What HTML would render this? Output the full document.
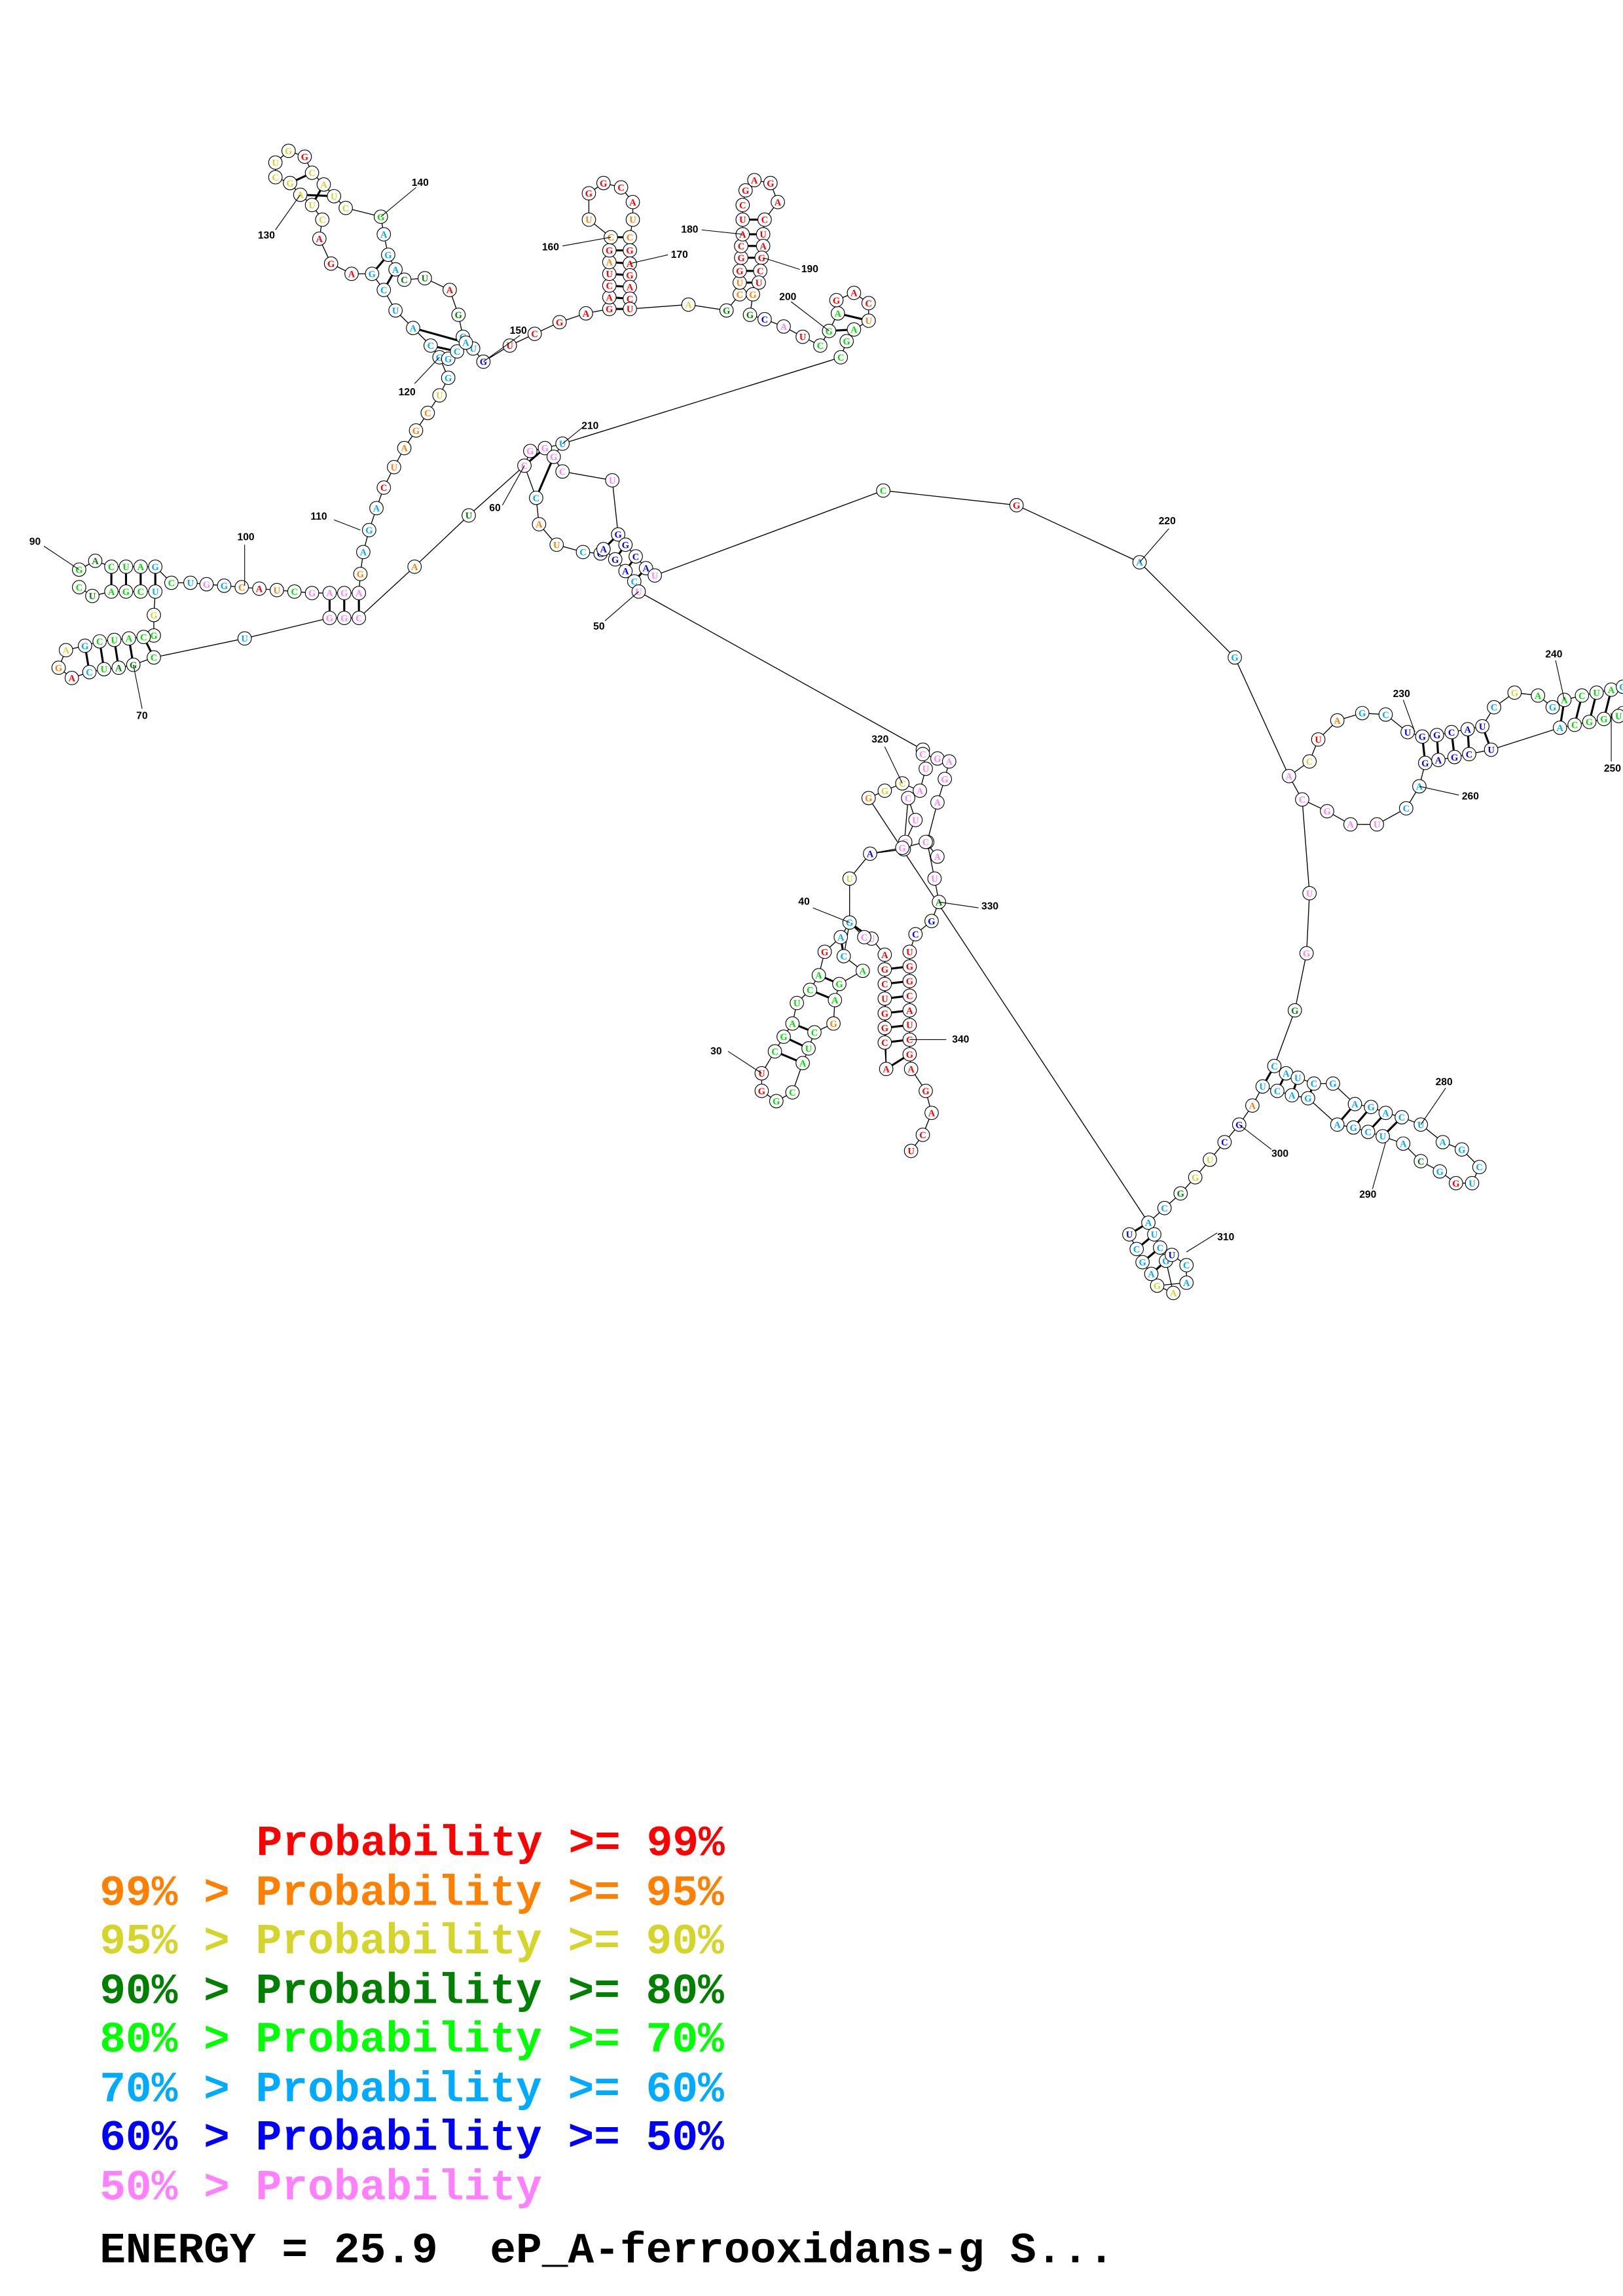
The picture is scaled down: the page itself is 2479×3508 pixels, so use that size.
<!DOCTYPE html>
<html><head><meta charset="utf-8"><style>
html,body{margin:0;padding:0;background:#fff}
svg{display:block}
.l{font-family:"Liberation Mono",monospace;font-weight:bold;font-size:29.6px;white-space:pre}
.n{font-family:"Liberation Sans",sans-serif;font-weight:bold;font-size:7px}
.c{font-family:"Liberation Serif",serif;font-weight:bold;font-size:6.5px;text-anchor:middle}
</style></head><body>
<svg id="s" xmlns="http://www.w3.org/2000/svg" width="2479" height="3508" viewBox="0 0 1108 1568">
<g id="lines" stroke="#000" stroke-width="0.6" fill="none"></g>
<g id="pairs" stroke="#000" stroke-width="1.4" fill="none"></g>
<g id="nodes"></g>
<g id="labels"></g>
<text class="l" x="175" y="1267" fill="#ff0000">Probability &gt;= 99%</text>
<text class="l" x="68" y="1301" fill="#ff8000">99% &gt; Probability &gt;= 95%</text>
<text class="l" x="68" y="1334" fill="#d4d42a">95% &gt; Probability &gt;= 90%</text>
<text class="l" x="68" y="1368" fill="#008000">90% &gt; Probability &gt;= 80%</text>
<text class="l" x="68" y="1401" fill="#00ff00">80% &gt; Probability &gt;= 70%</text>
<text class="l" x="68" y="1435" fill="#00aaff">70% &gt; Probability &gt;= 60%</text>
<text class="l" x="68" y="1468" fill="#0000ff">60% &gt; Probability &gt;= 50%</text>
<text class="l" x="68" y="1502" fill="#ff80ff">50% &gt; Probability</text>
<text class="l" x="68" y="1545" fill="#000" xml:space="preserve">ENERGY = 25.9  eP_A-ferrooxidans-g S...</text>
</svg>
<script>
var C={R:"#ff0000",O:"#ff8000",Y:"#d4d42a",D:"#008000",G:"#00e000",B:"#00aaff",N:"#0000ff",P:"#ff80ff"};
var segs=[
"54,389,G 65,383,D 76,387,G 86,387,G 96,387,G 106,387,B 117,398,G 130,398,B 141,399,P 153,400,B 165,401,O 177,402,R 189,403,O 201,404,G 213,405,P 225,405,P 235,405,P 245,405,P",
"54,401,G 63,407,D 76,404,G 86,404,G 96,404,G 106,404,B 105,420,Y 105,434,G 98,435,G 88,436,G 78,437,G 68,438,G 58,441,B 45,444,Y 40,456,O 49,463,R 61,459,B 71,457,G 81,456,D 91,454,D 105,449,G 167,436,B 225,422,P 235,422,P 245,422,P 283,387,O 320,352,D 358,318,P",
"245,405,P 246,392,O 248,377,B 252,362,B 257,347,B 262,333,R 269,319,O 276,306,O 284,294,O 292,282,O 300,270,Y 306,258,B 300,244,B 294,236,B 282,224,B 270,212,B 262,198,B 254,187,B 240,187,R 226,180,R 218,163,R 220,150,Y 213,140,Y 205,133,Y 198,125,Y 188,121,Y 188,111,Y 197,103,Y 208,107,R 213,118,Y 221,126,Y 228,134,Y 236,142,Y 260,148,G 262,160,B 265,174,B 270,184,B 276,191,D 290,190,D 307,198,R 313,215,D 316,230,B 323,238,B 330,247,N",
"306,245,B 312,240,B 318,234,B",
"330,247,N 348,236,R 365,228,R 382,220,R 400,214,R 416,211,R 416,203,R 416,195,R 416,187,R 416,179,O 416,171,R 417,162,O 402,150,O 402,132,R 412,125,R 424,128,R 432,138,R 432,150,O 430,162,O 430,171,R 430,180,R 430,188,R 430,196,R 430,204,R 430,211,R 470,208,Y 496,212,D 505,201,O 505,193,O 505,185,R 506,176,R 506,168,R 507,160,R 507,150,R 507,140,R 509,130,R 515,123,R 526,125,R 531,138,R 522,150,R 521,160,R 521,168,R 520,176,R 519,185,R 518,193,R 514,201,O 512,215,D 522,218,N 535,223,P 548,230,R 560,236,G 566,226,G 572,214,G 571,205,R 583,200,R 593,207,R 593,219,O 583,225,G 578,233,G 574,244,G 384,303,B 372,306,P 362,308,P 358,318,P 366,340,B 368,358,O 380,372,O 398,377,B 410,378,N 412,375,N 420,382,N 427,390,N 433,397,B 436,404,P 630,512,P",
"384,303,B 378,312,P 384,322,P 418,328,P 422,365,N 427,372,N 434,380,N 441,388,N 447,393,P 603,335,G 694,345,R 778,384,B 843,449,B 880,530,P 894,520,Y 900,505,R 913,492,O 930,487,B 946,488,B 961,500,N 971,503,N 981,502,N 991,500,N 1002,498,N 1012,496,N 1020,483,B 1034,473,Y 1050,475,G 1060,483,B 1068,478,G 1080,475,G 1090,473,G 1100,471,G 1108,469,B",
"1108,487,G 1105,489,G 1095,491,G 1085,493,G 1075,495,G 1065,497,B 1018,512,N 1003,515,N 993,517,N 982,519,N 973,521,N 969,537,B 960,552,B 940,563,P 922,563,P 906,554,P 889,546,P 880,530,P",
"889,546,P 894,610,P 892,651,P 884,690,D 870,728,B 878,733,B 886,736,B 897,740,B 910,740,B 925,754,B 936,756,B 946,760,B 957,763,B 970,768,B 985,780,B 998,785,B 1010,797,B 1005,808,B 994,808,R 983,800,B 970,793,D 958,781,B 944,776,B 934,773,B 924,770,B 913,768,B 893,750,B 882,748,B 872,745,B 862,742,B 855,755,O 846,768,N 836,780,N 826,792,Y 816,804,Y 806,815,D 795,825,B 784,835,B 788,843,B 792,852,B 796,861,B 801,883,Y 790,878,Y 810,876,B 810,864,B 800,857,N 786,870,B 780,862,B 776,853,B 771,843,N 784,835,B 593,545,O",
"593,545,O 604,540,Y 616,535,Y 628,540,P 632,525,P 630,515,P 640,518,P 648,520,P 645,532,P 640,548,P 633,575,P 638,600,P 641,616,D 636,629,N 625,638,N 621,650,R 621,660,R 621,670,R 621,680,R 621,690,R 621,700,R 621,710,R 621,720,R 622,730,R 632,745,R 636,760,R 630,775,R 622,786,R",
"604,652,R 604,662,R 604,672,R 604,682,R 604,692,R 604,702,R 604,712,R 605,730,R 604,652,R 595,641,P 590,640,P 580,630,B 574,640,B 563,650,R 559,666,G 553,676,G 544,685,G 541,699,G 535,708,G 529,718,G 520,733,R 520,745,R 530,752,G 541,746,G 548,726,G 552,716,G 556,705,G 569,699,O 570,683,G 573,672,G 589,663,G 576,653,B 580,630,B 580,600,Y 594,583,N 617,580,P 620,545,P 625,560,P 618,575,P",
"594,583,N 616,579,P 632,575,P 640,585,P"
];
var pairs=[[76,387,76,404],[86,387,86,404],[96,387,96,404],[106,387,106,404],[58,441,61,459],[68,438,71,457],[78,437,81,456],[88,436,91,454],[98,435,105,449],[225,405,225,422],[235,405,235,422],[245,405,245,422],
[416,211,430,211],[416,203,430,204],[416,195,430,196],[416,187,430,188],[416,179,430,180],[416,171,430,171],[417,162,430,162],
[505,201,514,201],[505,193,518,193],[505,185,519,185],[506,176,520,176],[506,168,521,168],[507,160,521,160],[507,150,522,150],
[971,503,973,521],[981,502,982,519],[991,500,993,517],[1002,498,1003,515],[1012,496,1018,512],[1068,478,1065,497],[1080,475,1075,495],[1090,473,1085,493],[1100,471,1095,491],
[878,733,872,745],[886,736,882,748],[897,740,893,750],[870,728,862,742],[925,754,913,768],[936,756,924,770],[946,760,934,773],[957,763,944,776],
[784,835,771,843],[788,843,776,853],[792,852,780,862],[796,861,786,870],
[604,662,621,660],[604,672,621,670],[604,682,621,680],[604,692,621,690],[604,702,621,700],[604,712,621,710],[605,730,621,720],
[580,630,595,641],[574,640,576,653],[559,666,573,672],[553,676,570,683],[541,699,556,705],[535,708,552,716],[529,718,548,726],
[358,318,372,306],[366,340,378,312],[420,382,427,372],[427,390,434,380],[433,397,441,388],[412,375,422,365],
[300,244,306,245],[294,236,312,240],[282,224,318,234],[254,187,265,174],[262,198,270,184],[205,133,228,134],[213,140,221,126],[198,125,213,118],
[566,226,583,225],[572,214,593,219]];
var labels=[["90",20,372],["100",162,369],["110",212,355],["120",272,270],["130",176,163],["140",281,127],["150",348,228],["160",370,171],["170",458,176],["180",465,159],["190",547,186],["200",532,205],["210",397,293],["220",791,358],["230",951,476],["240",1055,449],["250",1095,527],["260",998,546],["280",980,741],["290",928,818],["300",868,790],["310",831,847],["320",595,507],["330",670,621],["340",650,712],["30",485,720],["40",545,618],["50",405,430],["60",334,349],["70",93,491]];
var ll=[[30,373,54,389],[167,372,167,400],[228,355,246,362],[283,262,300,244],[188,157,205,133],[284,128,260,148],[355,229,330,247],[384,168,417,162],[456,174,430,180],[479,157,507,160],[546,184,521,176],[540,206,566,226],[400,290,384,303],[798,361,778,384],[958,478,966,500],[1062,451,1068,478],[1100,520,1100,487],[996,543,969,537],[987,743,970,768],[937,812,946,780],[868,785,846,768],[831,842,810,855],[604,510,616,535],[668,620,641,616],[646,710,621,710],[497,718,520,733],[555,620,580,630],[413,424,436,404],[343,345,358,318],[97,484,91,454]];
var NS="http://www.w3.org/2000/svg";
function el(t,a,p){var e=document.createElementNS(NS,t);for(var k in a)e.setAttribute(k,a[k]);p.appendChild(e);return e;}
var L=document.getElementById("lines"),P=document.getElementById("pairs"),Nd=document.getElementById("nodes"),Lb=document.getElementById("labels");
var letters="GACUAGCUGGCAUCGA",li=0,seen={};
segs.forEach(function(s){var pts=s.trim().split(/\s+/).map(function(t){var a=t.split(",");return [+a[0],+a[1],a[2]];});
 el("polyline",{points:pts.map(function(p){return p[0]+","+p[1];}).join(" ")},L);
 pts.forEach(function(p){var k=p[0]+"_"+p[1];if(seen[k])return;seen[k]=1;
  el("circle",{cx:p[0],cy:p[1],r:4.6,fill:"#fff",stroke:"#000","stroke-width":0.5},Nd);
  var t=el("text",{x:p[0],y:p[1]+2.3,"class":"c",fill:C[p[2]]},Nd);t.textContent=letters[(li++)%letters.length];});
});
pairs.forEach(function(q){el("line",{x1:q[0],y1:q[1],x2:q[2],y2:q[3]},P);});
ll.forEach(function(q){el("line",{x1:q[0],y1:q[1],x2:q[2],y2:q[3],stroke:"#000","stroke-width":0.5},Lb);});
labels.forEach(function(q){var t=el("text",{x:q[1],y:q[2],"class":"n"},Lb);t.textContent=q[0];});
</script>
</body></html>
